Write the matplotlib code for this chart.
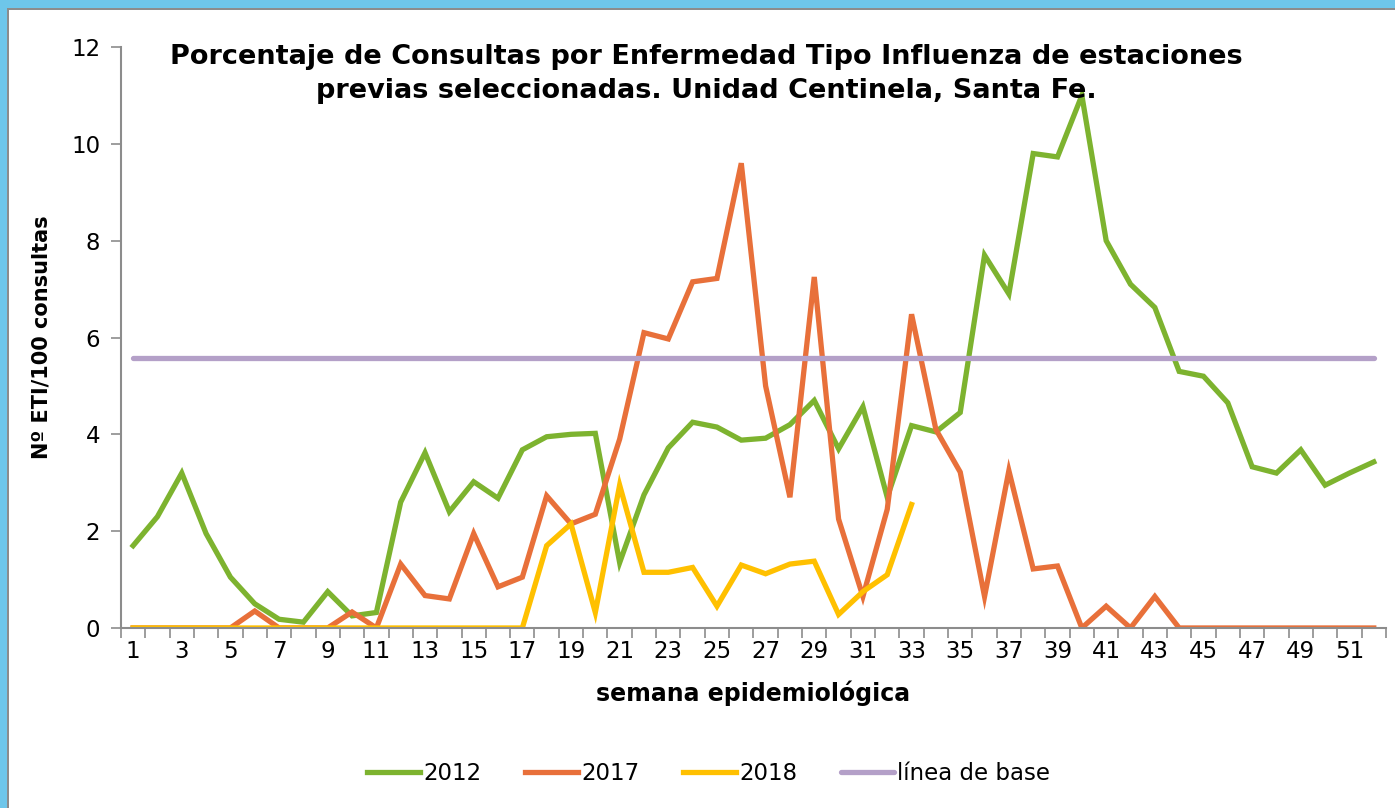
import numpy as np
import matplotlib.pyplot as plt
from matplotlib.patches import Rectangle

weeks = np.arange(1, 53)

eti_2012 = [1.70, 2.30, 3.20, 1.95, 1.05, 0.50, 0.18, 0.12, 0.75, 0.25,
            0.32, 2.60, 3.62, 2.40, 3.02, 2.68, 3.68, 3.95, 4.00, 4.02,
            1.35, 2.75, 3.72, 4.25, 4.15, 3.88, 3.92, 4.20, 4.70, 3.70,
            4.57, 2.70, 4.18, 4.05, 4.45, 7.70, 6.90, 9.80, 9.73, 11.00,
            8.00, 7.10, 6.62, 5.30, 5.20, 4.65, 3.33, 3.20, 3.68, 2.95,
            3.20, 3.43]

eti_2017 = [0, 0, 0, 0, 0, 0.35, 0, 0, 0, 0.33,
            0, 1.32, 0.67, 0.60, 1.95, 0.85, 1.05, 2.73, 2.15, 2.35,
            3.90, 6.10, 5.97, 7.15, 7.22, 9.60, 5.00, 2.70, 7.25, 2.25,
            0.65, 2.45, 6.48, 4.10, 3.22, 0.65, 3.25, 1.22, 1.28, 0,
            0.45, 0, 0.65, 0, 0, 0, 0, 0, 0, 0,
            0, 0]

eti_2018 = [0, 0, 0, 0, 0, 0, 0, 0, 0, 0,
            0, 0, 0, 0, 0, 0, 0, 1.70, 2.15, 0.32,
            2.95, 1.15, 1.15, 1.25, 0.45, 1.30, 1.12, 1.32, 1.38, 0.28,
            0.75, 1.10, 2.55] + [np.nan] * 19

baseline = 5.57

W, H = 1395, 808
fig = plt.figure(figsize=(W / 100, H / 100), dpi=100)

# blue band on top and left, grey line inside it
fig.patches.append(Rectangle((0, 1 - 8 / H), 1, 8 / H, transform=fig.transFigure,
                             facecolor="#6ec6ea", edgecolor="none", zorder=-3))
fig.patches.append(Rectangle((0, 0), 7 / W, 1, transform=fig.transFigure,
                             facecolor="#6ec6ea", edgecolor="none", zorder=-3))
fig.patches.append(Rectangle((7 / W, 1 - 10 / H), 1, 2 / H, transform=fig.transFigure,
                             facecolor="#8c8c8c", edgecolor="none", zorder=-2))
fig.patches.append(Rectangle((7 / W, 0), 2 / W, 1 - 8 / H, transform=fig.transFigure,
                             facecolor="#8c8c8c", edgecolor="none", zorder=-2))

ax = fig.add_axes([0.0867, 0.2228, 0.9068, 0.719])
ax.set_facecolor("none")

lw = 3.8
ax.plot(weeks, eti_2012, color="#7db32f", lw=lw, label="2012", solid_joinstyle="miter")
ax.plot(weeks, eti_2017, color="#e8703a", lw=lw, label="2017", solid_joinstyle="miter")
ax.plot(weeks, eti_2018, color="#ffc000", lw=lw, label="2018", solid_joinstyle="miter")
ax.plot(weeks, [baseline] * len(weeks), color="#b4a0c8", lw=lw, label="línea de base",
        solid_capstyle="round")

ax.set_xlim(0.5, 52.5)
ax.set_ylim(0, 12)
ax.set_yticks(range(0, 13, 2))
ax.set_xticks(np.arange(0.5, 53, 1))
ax.set_xticklabels([])
ax.set_xticks(weeks[::2], minor=True)
ax.set_xticklabels([str(w) for w in weeks[::2]], minor=True)
ax.tick_params(axis="x", which="major", length=7, color="#8c8c8c", width=1.2)
ax.tick_params(axis="x", which="minor", length=0, labelsize=16.5, pad=9)
ax.tick_params(axis="y", length=7, color="#8c8c8c", width=1.2, labelsize=16.5, pad=8)

for s in ["top", "right"]:
    ax.spines[s].set_visible(False)
for s in ["left", "bottom"]:
    ax.spines[s].set_color("#8c8c8c")
    ax.spines[s].set_linewidth(1.5)

ax.set_xlabel("semana epidemiológica", fontsize=17, fontweight="bold", labelpad=12)
ax.set_ylabel("Nº ETI/100 consultas", fontsize=15, fontweight="bold", labelpad=14)

fig.text(0.506, 0.909,
         "Porcentaje de Consultas por Enfermedad Tipo Influenza de estaciones\n"
         "previas seleccionadas. Unidad Centinela, Santa Fe.",
         ha="center", va="center", fontsize=19.5, fontweight="bold", linespacing=1.4)

fig.legend(loc="center", bbox_to_anchor=(0.508, 0.043), ncol=4, frameon=False,
           fontsize=16.5, handlelength=2.3, handletextpad=0.15, columnspacing=1.9)

fig.savefig("out.png", dpi=100, facecolor="white")
